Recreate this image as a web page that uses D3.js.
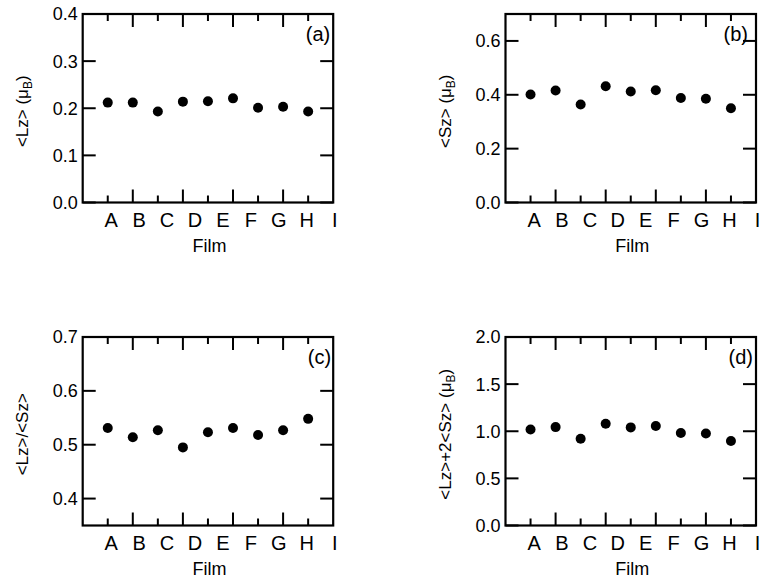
<!DOCTYPE html>
<html>
<head>
<meta charset="utf-8">
<script src="https://cdn.jsdelivr.net/npm/d3@7"></script>
<style>
  html, body { margin: 0; padding: 0; background: #fff; }
  svg { display: block; font-family: "Liberation Sans", Arial, Helvetica, sans-serif; }
</style>
</head>
<body>
<svg id="chart" width="762" height="578"></svg>
<script>
// ---- data ----
const categories = ["A", "B", "C", "D", "E", "F", "G", "H", "I"];
const lzValues    = [0.212, 0.212, 0.193, 0.214, 0.215, 0.221, 0.201, 0.203, 0.193];
const szValues    = [0.401, 0.416, 0.364, 0.432, 0.412, 0.417, 0.388, 0.385, 0.350];
const ratioValues = [0.531, 0.514, 0.527, 0.495, 0.523, 0.531, 0.518, 0.527, 0.548];
const totalValues = [1.019, 1.044, 0.921, 1.079, 1.041, 1.055, 0.981, 0.977, 0.896];

const yTicksA = [0.0, 0.1, 0.2, 0.3, 0.4];
const yTicksB = [0.0, 0.2, 0.4, 0.6];
const yTicksC = [0.4, 0.5, 0.6, 0.7];
const yTicksD = [0.0, 0.5, 1.0, 1.5, 2.0];

const yDomainA = [0, 0.4];
const yDomainB = [0, 0.7];
const yDomainC = [0.35, 0.7];
const yDomainD = [0, 2.0];

const panelTags = ["(a)", "(b)", "(c)", "(d)"];
const xTitle = "Film";

// ---- layout ----
const svg = d3.select("#chart");
const frameW = 250.5, frameH = 188.5;
const lw = 2.2;    // frame line width
const tw = 2;      // tick line width
const inkColor = "#000";
const panels = [
  { left: 82.7,  top: 14,  values: lzValues,    ticks: yTicksA, domain: yDomainA, tag: panelTags[0], tagInset: 3,
    title: ["<Lz> (\u03BC", "B", ")"] },
  { left: 505.5, top: 14,  values: szValues,    ticks: yTicksB, domain: yDomainB, tag: panelTags[1], tagInset: 8,
    title: ["<Sz> (\u03BC", "B", ")"] },
  { left: 82.7,  top: 337, values: ratioValues, ticks: yTicksC, domain: yDomainC, tag: panelTags[2], tagInset: 2,
    title: ["<Lz>/<Sz>", null, null] },
  { left: 505.5, top: 337, values: totalValues, ticks: yTicksD, domain: yDomainD, tag: panelTags[3], tagInset: 3,
    title: ["<Lz>+2<Sz> (\u03BC", "B", ")"] }
];

const fmt = d3.format(".1f");

panels.forEach(p => {
  const g = svg.append("g").attr("transform", `translate(${p.left},${p.top})`);

  const x = d3.scaleLinear().domain([0, categories.length + 1]).range([0, frameW]);
  const y = d3.scaleLinear().domain(p.domain).range([frameH, 0]);

  const idx = d3.range(1, categories.length + 1);
  const xTickData = idx.map(i => ({ v: i, len: i % 2 === 0 ? 13 : 7 }));

  // frame
  g.append("rect")
    .attr("x", 0).attr("y", 0)
    .attr("width", frameW).attr("height", frameH)
    .attr("fill", "none").attr("stroke", inkColor).attr("stroke-width", lw);

  // y ticks (left and right, inward)
  const yTickG = g.append("g").attr("stroke", inkColor).attr("stroke-width", tw);
  yTickG.selectAll("line.l").data(p.ticks).join("line").attr("class", "l")
    .attr("x1", 0).attr("x2", 13)
    .attr("y1", d => y(d)).attr("y2", d => y(d));
  yTickG.selectAll("line.r").data(p.ticks).join("line").attr("class", "r")
    .attr("x1", frameW - 13).attr("x2", frameW)
    .attr("y1", d => y(d)).attr("y2", d => y(d));

  // x ticks (bottom and top, inward, alternating length)
  const xTickG = g.append("g").attr("stroke", inkColor).attr("stroke-width", tw);
  xTickG.selectAll("line.b").data(xTickData).join("line").attr("class", "b")
    .attr("x1", d => x(d.v)).attr("x2", d => x(d.v))
    .attr("y1", frameH).attr("y2", d => frameH - d.len);
  xTickG.selectAll("line.t").data(xTickData).join("line").attr("class", "t")
    .attr("x1", d => x(d.v)).attr("x2", d => x(d.v))
    .attr("y1", 0).attr("y2", d => d.len);

  // y tick labels
  g.append("g").selectAll("text").data(p.ticks).join("text")
    .attr("x", -5).attr("y", d => y(d)).attr("dy", "0.36em")
    .attr("text-anchor", "end").attr("font-size", 18).attr("fill", "#000")
    .text(fmt);

  // category labels
  const xl = d3.scalePoint().domain(categories)
    .range([x(1) + 3.5, x(categories.length + 1) + 1.5]);
  g.append("g").selectAll("text").data(categories).join("text")
    .attr("x", d => xl(d))
    .attr("y", frameH + 24)
    .attr("text-anchor", "middle")
    .attr("font-size", 20)
    .attr("fill", "#000")
    .text(d => d);

  // x title
  g.append("text")
    .attr("x", frameW / 2 + 1.5)
    .attr("y", frameH + 49)
    .attr("text-anchor", "middle")
    .attr("font-size", 18)
    .attr("fill", "#000")
    .text(xTitle);

  // y title
  const yt = g.append("text")
    .attr("transform", `translate(-55,${frameH / 2 + 3}) rotate(-90)`)
    .attr("text-anchor", "middle")
    .attr("font-size", 17)
    .attr("fill", "#000");
  yt.append("tspan").text(p.title[0]);
  if (p.title[1]) {
    yt.append("tspan").attr("font-size", 12).attr("dy", 4).text(p.title[1]);
    yt.append("tspan").attr("dy", -4).text(p.title[2]);
  }

  // points
  g.append("g").selectAll("circle").data(p.values).join("circle")
    .attr("cx", (d, i) => x(i + 1))
    .attr("cy", d => y(d))
    .attr("r", 5)
    .attr("fill", "#000");

  // panel tag
  g.append("text")
    .attr("x", frameW - p.tagInset)
    .attr("y", 27)
    .attr("text-anchor", "end")
    .attr("font-size", 20)
    .attr("fill", "#000")
    .text(p.tag);
});
</script>
</body>
</html>
